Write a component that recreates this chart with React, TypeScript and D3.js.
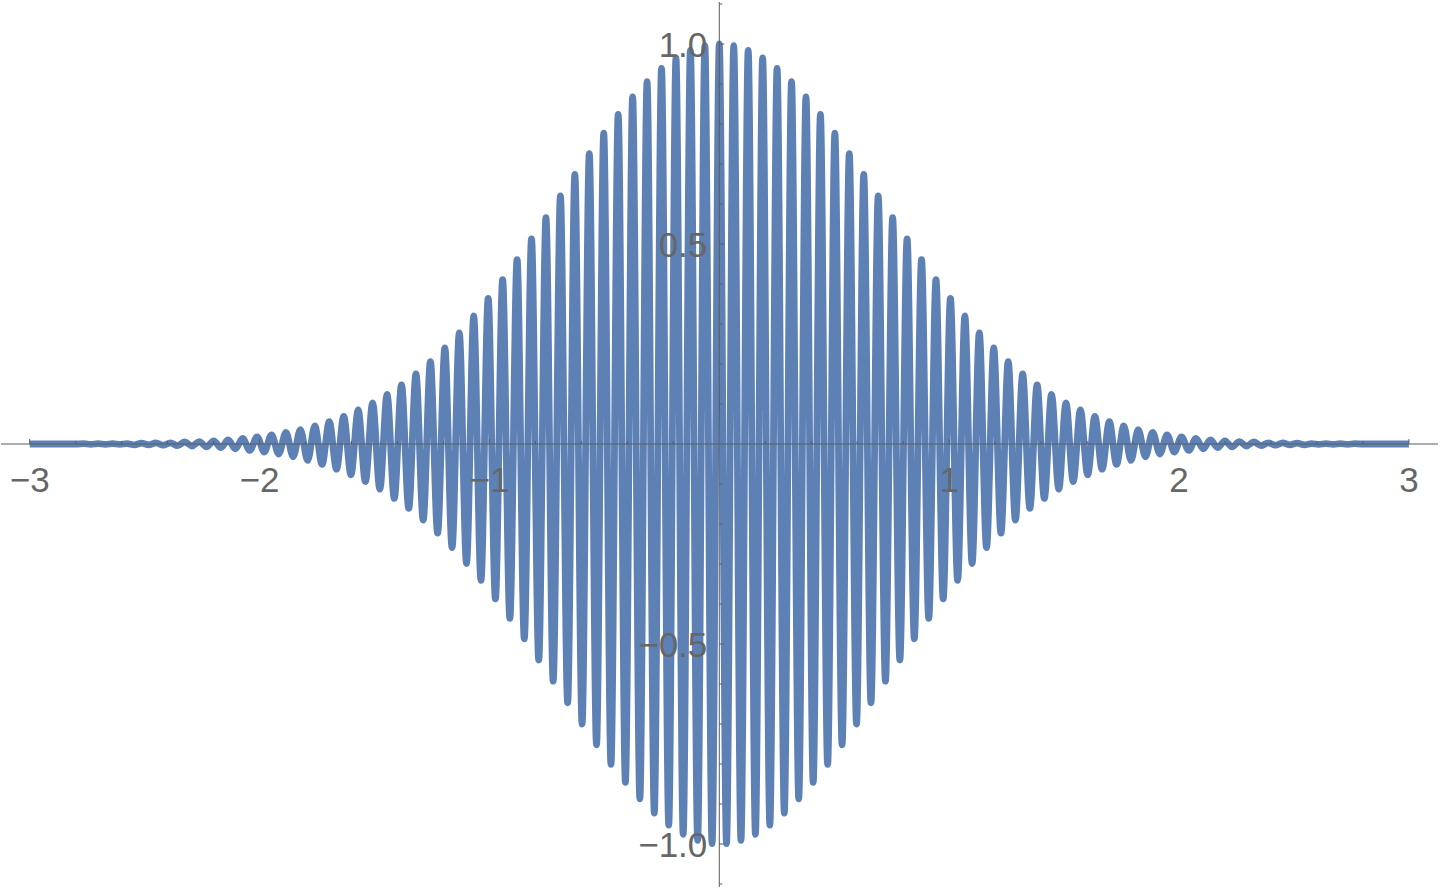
import React, { useRef, useEffect } from 'react';
import * as d3 from 'd3';

// crest / trough heights of the wave packet, left to right (first one sits at -95 half periods)
const extrema = [
  0, 0, 0, 0, 0, 0, 0, 0.001, -0.001, 0.001,
  -0.001, 0.001, -0.001, 0.001, -0.002, 0.002, -0.002, 0.003, -0.003, 0.003,
  -0.004, 0.005, -0.005, 0.006, -0.007, 0.008, -0.009, 0.010, -0.012, 0.014,
  -0.016, 0.018, -0.020, 0.023, -0.025, 0.029, -0.032, 0.036, -0.041, 0.045,
  -0.051, 0.056, -0.063, 0.069, -0.077, 0.085, -0.094, 0.103, -0.113, 0.124,
  -0.136, 0.148, -0.161, 0.175, -0.190, 0.206, -0.223, 0.240, -0.259, 0.278,
  -0.299, 0.320, -0.341, 0.364, -0.387, 0.411, -0.436, 0.461, -0.487, 0.513,
  -0.540, 0.566, -0.593, 0.620, -0.647, 0.674, -0.700, 0.726, -0.752, 0.777,
  -0.801, 0.824, -0.846, 0.868, -0.887, 0.906, -0.923, 0.939, -0.953, 0.965,
  -0.976, 0.984, -0.991, 0.996, -0.999,
  1.000,
  -0.999, 0.996, -0.991, 0.984, -0.976, 0.965, -0.953, 0.939, -0.923, 0.906,
  -0.887, 0.868, -0.846, 0.824, -0.801, 0.777, -0.752, 0.726, -0.700, 0.674,
  -0.647, 0.620, -0.593, 0.566, -0.540, 0.513, -0.487, 0.461, -0.436, 0.411,
  -0.387, 0.364, -0.341, 0.320, -0.299, 0.278, -0.259, 0.240, -0.223, 0.206,
  -0.190, 0.175, -0.161, 0.148, -0.136, 0.124, -0.113, 0.103, -0.094, 0.085,
  -0.077, 0.069, -0.063, 0.056, -0.051, 0.045, -0.041, 0.036, -0.032, 0.029,
  -0.025, 0.023, -0.020, 0.018, -0.016, 0.014, -0.012, 0.010, -0.009, 0.008,
  -0.007, 0.006, -0.005, 0.005, -0.004, 0.003, -0.003, 0.003, -0.002, 0.002,
  -0.002, 0.001, -0.001, 0.001, -0.001, 0.001, -0.001, 0.001, 0, 0,
  0, 0, 0, 0, 0,
];
const halfPeriod = 0.03142; // x distance between a crest and the next trough
const plotRange = [-3, 3];

const xTicks = [-3, -2, -1, 1, 2, 3];
const xTickLabels = ['\u22123', '\u22122', '\u22121', '1', '2', '3'];
const yTicks = [-1, -0.5, 0.5, 1];
const yTickLabels = ['\u22121.0', '\u22120.5', '0.5', '1.0'];

const App = () => {
  const svgRef = useRef(null);

  useEffect(() => {
    const width = 1440;
    const height = 892;
    const svg = d3.select(svgRef.current);
    svg.selectAll('*').remove();
    svg.attr('width', width).attr('height', height);

    const x = d3.scaleLinear().domain([-3, 3]).range([29.7, 1408.9]);
    const y = d3.scaleLinear().domain([-1, 1]).range([844, 44]);

    const mid = (extrema.length - 1) / 2;
    const points = [
      { x: plotRange[0], y: 0 },
      ...extrema.map((v, i) => ({ x: (i - mid) * halfPeriod, y: v })),
      { x: plotRange[1], y: 0 },
    ];

    // the curve
    const line = d3.line()
      .x(d => x(d.x))
      .y(d => y(d.y))
      .curve(d3.curveMonotoneX);

    svg.append('path')
      .datum(points)
      .attr('fill', 'none')
      .attr('stroke', '#5e81b5')
      .attr('stroke-width', 6.8)
      .attr('stroke-linejoin', 'round')
      .attr('d', line);

    const axisColor = '#5c5c5c';
    const x0 = x(0);
    const y0 = y(0);

    // axes through the origin
    svg.append('line')
      .attr('x1', 1).attr('x2', 1438)
      .attr('y1', y0).attr('y2', y0)
      .attr('stroke', axisColor).attr('stroke-width', 1);
    svg.append('line')
      .attr('x1', x0).attr('x2', x0)
      .attr('y1', 2).attr('y2', 887)
      .attr('stroke', axisColor).attr('stroke-width', 1);

    // x ticks (minor every 0.2)
    const xMinor = d3.range(-15, 16).map(i => i * 0.2).filter(v => Math.abs(v) > 1e-6);
    svg.append('g').selectAll('line')
      .data(xMinor)
      .enter().append('line')
      .attr('x1', d => x(d)).attr('x2', d => x(d))
      .attr('y1', y0)
      .attr('y2', d => y0 - (Math.abs(d - Math.round(d)) < 1e-6 ? 5 : 3))
      .attr('stroke', axisColor).attr('stroke-width', 1);

    // y ticks (minor every 0.1)
    const yMinor = d3.range(-11, 12).map(i => i * 0.1).filter(v => Math.abs(v) > 1e-6);
    svg.append('g').selectAll('line')
      .data(yMinor)
      .enter().append('line')
      .attr('x1', x0)
      .attr('x2', d => x0 + (Math.abs(d * 2 - Math.round(d * 2)) < 1e-6 ? 5 : 3))
      .attr('y1', d => y(d)).attr('y2', d => y(d))
      .attr('stroke', axisColor).attr('stroke-width', 1);

    const font = "'Liberation Sans', Arial, sans-serif";

    svg.append('g').selectAll('text')
      .data(xTicks)
      .enter().append('text')
      .attr('x', d => x(d))
      .attr('y', y0 + 48)
      .attr('text-anchor', 'middle')
      .attr('font-family', font)
      .attr('font-size', '35px')
      .attr('fill', '#666666')
      .text((d, i) => xTickLabels[i]);

    svg.append('g').selectAll('text')
      .data(yTicks)
      .enter().append('text')
      .attr('x', x0 - 12)
      .attr('y', d => y(d) + 12.5)
      .attr('text-anchor', 'end')
      .attr('font-family', font)
      .attr('font-size', '35px')
      .attr('fill', '#666666')
      .text((d, i) => yTickLabels[i]);
  }, []);

  return (
    <svg ref={svgRef} style={{ position: 'absolute', left: 0, top: 0, background: '#fff' }}></svg>
  );
};

export default App;
